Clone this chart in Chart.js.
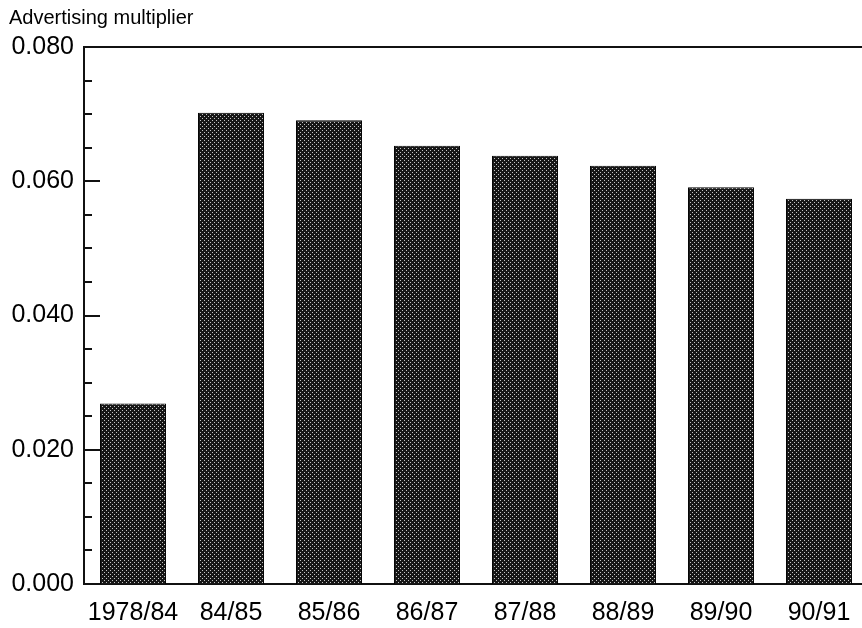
<!DOCTYPE html>
<html>
<head>
<meta charset="utf-8">
<script src="https://cdn.jsdelivr.net/npm/chart.js@4"></script>
<style>
  html, body { margin: 0; padding: 0; background: #fff; overflow: hidden; }
  #wrap { width: 868px; height: 628px; }
</style>
</head>
<body>
<div id="wrap"><canvas id="myChart"></canvas></div>
<script>
const categories = ["1978/84", "84/85", "85/86", "86/87", "87/88", "88/89", "89/90", "90/91"];
const multiplier = [0.0269, 0.0702, 0.0691, 0.0653, 0.0638, 0.0623, 0.0591, 0.0574];
const yTickLabels = ["0.000", "0.020", "0.040", "0.060", "0.080"];
const titleText = "Advertising multiplier";

// dotted dark fill like the printed screen
function makePattern() {
    const c = document.createElement("canvas");
    c.width = 4;
    c.height = 4;
    const p = c.getContext("2d");
    p.fillStyle = "#161616";
    p.fillRect(0, 0, 4, 4);
    p.fillStyle = "#c4c4c4";
    p.fillRect(0, 0, 1, 1);
    p.fillRect(2, 2, 1, 1);
    return p.createPattern(c, "repeat");
}

const extras = {
    id: "extras",
    afterDraw(chart) {
        const ctx = chart.ctx;
        const area = chart.chartArea;
        const y = chart.scales.y;
        ctx.save();
        ctx.strokeStyle = "#111";
        ctx.lineWidth = 2;
        // top frame line
        ctx.beginPath();
        ctx.moveTo(area.left, area.top);
        ctx.lineTo(area.right, area.top);
        ctx.stroke();
        // inward ticks on the y axis
        y.ticks.forEach(function(t, i) {
            const py = Math.round(y.getPixelForValue(t.value));
            const len = (i % 4 === 0) ? 16 : 8;
            ctx.beginPath();
            ctx.moveTo(area.left, py);
            ctx.lineTo(area.left + len, py);
            ctx.stroke();
        });
        // title
        ctx.fillStyle = "#000";
        ctx.font = "20px 'Liberation Sans', Arial, sans-serif";
        ctx.textBaseline = "alphabetic";
        ctx.textAlign = "left";
        ctx.fillText(titleText, 9, 24);
        ctx.restore();
    }
};

const ctx = document.getElementById("myChart").getContext("2d");
const myChart = new Chart(ctx, {
    type: "bar",
    data: {
        labels: categories,
        datasets: [{
            label: titleText,
            data: multiplier,
            backgroundColor: makePattern(),
            borderColor: "#000",
            borderWidth: 1,
            barPercentage: 0.673,
            categoryPercentage: 1.0,
        }],
    },
    options: {
        responsive: true,
        maintainAspectRatio: false,
        animation: false,
        layout: { padding: { top: 47, left: 0, right: 0, bottom: 0 } },
        plugins: {
            legend: { display: false },
            title: { display: false },
            tooltip: { enabled: false },
        },
        scales: {
            x: {
                grid: { display: false, drawTicks: false },
                border: { display: true, color: "#111", width: 2 },
                afterFit: function(s) { s.height = 44; },
                ticks: {
                    color: "#000",
                    padding: 14,
                    maxRotation: 0,
                    autoSkip: false,
                    font: { family: "'Liberation Sans', Arial, sans-serif", size: 25 },
                },
            },
            y: {
                min: 0,
                max: 0.08,
                grid: { display: false, drawTicks: false },
                border: { display: true, color: "#111", width: 2 },
                afterFit: function(s) { s.width = 84; },
                ticks: {
                    stepSize: 0.005,
                    autoSkip: false,
                    color: "#000",
                    padding: 10,
                    font: { family: "'Liberation Sans', Arial, sans-serif", size: 25 },
                    callback: function(value, index) {
                        return index % 4 === 0 ? yTickLabels[index / 4] : "";
                    },
                },
            },
        },
    },
    plugins: [extras],
});
</script>
</body>
</html>
